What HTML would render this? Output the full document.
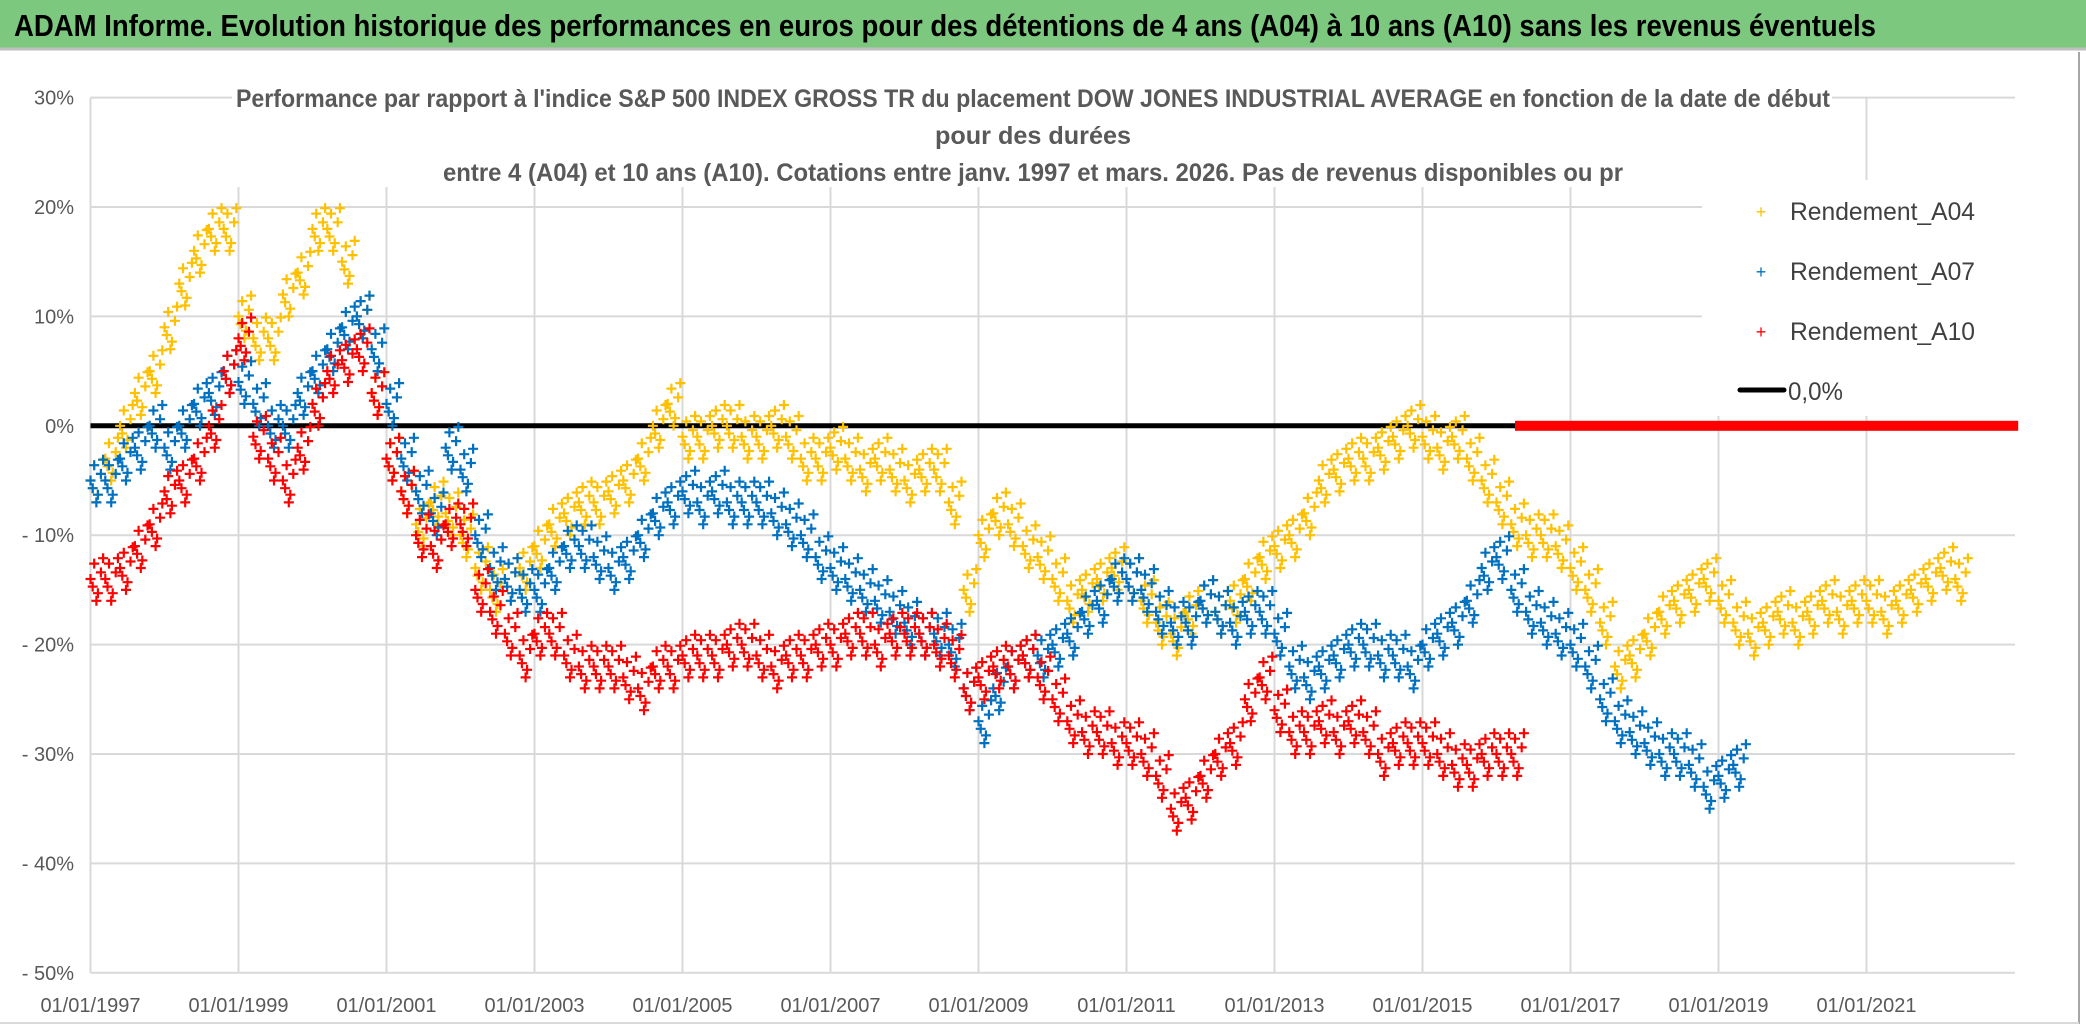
<!DOCTYPE html>
<html><head><meta charset="utf-8"><style>
html,body{margin:0;padding:0;background:#fff;}
svg{display:block;font-family:"Liberation Sans Narrow","Liberation Sans",sans-serif;}
</style></head><body>
<svg id="chart" width="2086" height="1031" viewBox="0 0 2086 1031" xmlns="http://www.w3.org/2000/svg">
<rect x="0" y="0" width="2086" height="1031" fill="#fff"/>
<rect x="0" y="0" width="2086" height="48" fill="#7DC87F"/>
<line x1="0" y1="49" x2="2086" y2="49" stroke="#bfbfbf" stroke-width="3"/>
<text x="14" y="36" font-size="31" font-weight="bold" fill="#000" textLength="1862" lengthAdjust="spacingAndGlyphs">ADAM Informe. Evolution historique des performances en euros pour des détentions de 4 ans (A04) à 10 ans (A10) sans les revenus éventuels</text>
<line x1="2079" y1="52" x2="2079" y2="1024" stroke="#a6a6a6" stroke-width="2"/>
<line x1="0" y1="1023" x2="2079" y2="1023" stroke="#d9d9d9" stroke-width="2"/>
<g id="grid"></g>
<g id="yticks"></g>
<g id="xticks"></g>
<rect x="1702" y="180" width="318" height="236" fill="#fff"/>
<g fill="#595959" font-size="25" font-weight="bold">
<rect x="232" y="75" width="1600" height="112" fill="#fff"/>
<text x="1033" y="107" text-anchor="middle" textLength="1594" lengthAdjust="spacingAndGlyphs">Performance par rapport à l'indice S&amp;P 500 INDEX GROSS TR  du placement DOW JONES INDUSTRIAL AVERAGE en fonction de la date de début</text>
<text x="1033" y="144" text-anchor="middle" textLength="196" lengthAdjust="spacingAndGlyphs">pour des durées</text>
<text x="1033" y="181" text-anchor="middle" textLength="1180" lengthAdjust="spacingAndGlyphs">entre 4 (A04) et 10 ans (A10). Cotations entre janv. 1997 et mars. 2026. Pas de revenus disponibles ou pr</text>
</g>
<g id="marks"></g>
<g font-size="25" fill="#404040">
<g><text x="1761" y="218" fill="#FFC000" font-size="18" text-anchor="middle">+</text><text x="1790" y="220" textLength="185" lengthAdjust="spacingAndGlyphs">Rendement_A04</text></g>
<g><text x="1761" y="278" fill="#0070C0" font-size="18" text-anchor="middle">+</text><text x="1790" y="280" textLength="185" lengthAdjust="spacingAndGlyphs">Rendement_A07</text></g>
<g><text x="1761" y="338" fill="#FF0000" font-size="18" text-anchor="middle">+</text><text x="1790" y="340" textLength="185" lengthAdjust="spacingAndGlyphs">Rendement_A10</text></g>
<g><line x1="1740" y1="390" x2="1784" y2="390" stroke="#000" stroke-width="5" stroke-linecap="round"/><text x="1788" y="400" textLength="55" lengthAdjust="spacingAndGlyphs">0,0%</text></g>
</g>
</svg>
<script>
const yTicks=[30,20,10,0,-10,-20,-30,-40,-50];
const yTickLabels=["30%","20%","10%","0%","- 10%","- 20%","- 30%","- 40%","- 50%"];
const xTickYears=[1997,1999,2001,2003,2005,2007,2009,2011,2013,2015,2017,2019,2021];
const xTickLabels=["01/01/1997","01/01/1999","01/01/2001","01/01/2003","01/01/2005","01/01/2007","01/01/2009","01/01/2011","01/01/2013","01/01/2015","01/01/2017","01/01/2019","01/01/2021"];
const startYear=1997.0, stepYears=0.2;
const a04=[-5,-3,0,3,5,9,13,16,18,18,10,8,8,12,14,18,18,15,10,3,-3,-6,-9,-7,-8,-10,-13,-15,-14,-13,-11,-9,-8,-7,-7,-6,-5,-3,0,2,-1,-1,0,0,-1,-1,0,-1,-3,-3,-2,-3,-4,-3,-4,-5,-4,-4,-7,-15,-10,-8,-9,-11,-12,-14,-16,-15,-14,-13,-14,-16,-18,-19,-17,-16,-17,-16,-14,-12,-11,-10,-8,-5,-4,-3,-3,-2,-1,0,-1,-2,-1,-3,-5,-7,-9,-10,-10,-11,-13,-15,-18,-22,-21,-19,-17,-16,-15,-14,-16,-18,-19,-18,-17,-18,-17,-16,-17,-16,-16,-17,-16,-15,-14,-13,-14];
const a07=[-5,-5,-3,-2,0,-2,0,2,3,5,4,2,0,0,3,5,7,9,10,7,2,-3,-6,-8,-2,-4,-10,-13,-14,-15,-15,-13,-11,-11,-12,-13,-12,-10,-8,-7,-6,-7,-6,-7,-7,-7,-8,-9,-10,-12,-13,-14,-15,-16,-17,-18,-19,-19,-20,-24,-27,-24,-22,-21,-21,-20,-19,-17,-16,-14,-14,-15,-17,-18,-18,-16,-17,-18,-17,-17,-19,-22,-23,-22,-21,-20,-20,-21,-21,-22,-20,-19,-18,-16,-13,-12,-15,-17,-18,-19,-20,-22,-25,-27,-28,-29,-30,-30,-31,-33,-32,-31];
const a10=[-14,-14,-13,-11,-9,-6,-5,-3,0,5,8,-1,-3,-5,-2,2,5,6,7,3,-3,-6,-10,-11,-9,-9,-15,-17,-19,-21,-19,-19,-21,-22,-22,-22,-23,-24,-22,-22,-21,-21,-21,-20,-20,-21,-22,-21,-21,-20,-20,-19,-19,-20,-19,-19,-19,-20,-21,-24,-23,-22,-22,-21,-23,-25,-27,-28,-28,-29,-29,-30,-32,-35,-34,-32,-30,-29,-25,-23,-26,-28,-28,-27,-28,-27,-28,-30,-29,-29,-29,-30,-31,-31,-30,-30,-30];
const zeroLineStart=1997.0, zeroLineEnd=2016.25;
const zeroTailStart=2016.25, zeroTailEnd=2023.05;

const NS="http://www.w3.org/2000/svg";
const X0=90.5, PX_PER_YEAR=74, Y0=425.8, PX_PER_PCT=10.94;
const xScale=t=>X0+(t-1997)*PX_PER_YEAR;
const yScale=v=>Y0-v*PX_PER_PCT;
const plotRight=2015;
function mk(tag,attrs,parent){const e=document.createElementNS(NS,tag);for(const k in attrs)e.setAttribute(k,attrs[k]);parent.appendChild(e);return e;}
const grid=document.getElementById('grid'),yt=document.getElementById('yticks'),xt=document.getElementById('xticks'),marks=document.getElementById('marks');
yTicks.forEach((v,i)=>{
  const l=mk('line',{x1:X0,x2:plotRight,y1:yScale(v),y2:yScale(v),stroke:'#d9d9d9','stroke-width':2},grid);
  
  
  const t=mk('text',{x:74,y:yScale(v)+7,'text-anchor':'end','font-size':20,fill:'#595959'},yt);
  t.textContent=yTickLabels[i];
  
  
});
xTickYears.forEach((yr,i)=>{
  const l=mk('line',{x1:xScale(yr),x2:xScale(yr),y1:yScale(30),y2:yScale(-50),stroke:'#d9d9d9','stroke-width':2},grid);
  
  
  const t=mk('text',{x:xScale(yr),y:1012,'text-anchor':'middle','font-size':20,fill:'#595959'},xt);
  t.textContent=xTickLabels[i];
  
  
});
const zl=mk('line',{x1:xScale(zeroLineStart),x2:xScale(zeroLineEnd),y1:yScale(0),y2:yScale(0),stroke:'#000','stroke-width':5},marks);


function series(vals,color,name){
  const g=mk('g',{stroke:color,'stroke-width':2.2},marks);
  
  
  let d='';
  const s=5;
  const offs=[[0,0],[0.05,1.4],[0.1,-1.3],[0.14,0.6],[0.03,-0.7],[0.17,1.9],[0.08,-2.0]];
  vals.forEach((v,i)=>{
    const t=startYear+i*stepYears;
    offs.forEach(o=>{
      const x=xScale(t+o[0]),y=yScale(v+o[1]);
      d+=`M${(x-s).toFixed(1)} ${y.toFixed(1)}h${2*s}M${x.toFixed(1)} ${(y-s).toFixed(1)}v${2*s}`;
    });
  });
  mk('path',{d:d,fill:'none'},g);
}
series(a04,'#FFC000','series-a04');
series(a07,'#0070C0','series-a07');
series(a10,'#FF0000','series-a10');
const zt=mk('rect',{x:xScale(zeroTailStart),y:yScale(0)-5,width:xScale(zeroTailEnd)-xScale(zeroTailStart),height:10,fill:'#FF0000'},marks);


</script>
</body></html>
